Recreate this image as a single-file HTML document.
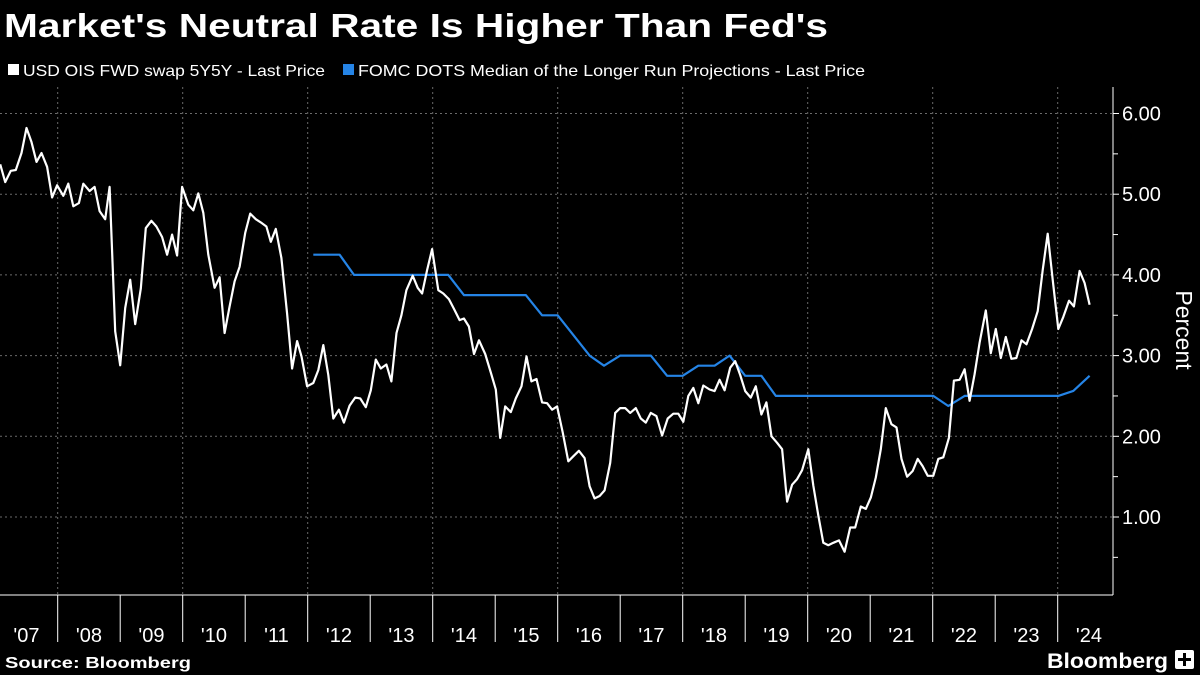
<!DOCTYPE html>
<html><head><meta charset="utf-8"><style>
html,body{margin:0;padding:0;background:#000;width:1200px;height:675px;overflow:hidden}
svg{display:block;font-family:"Liberation Sans",sans-serif}
</style></head><body>
<svg id="chart" width="1200" height="675" viewBox="0 0 1200 675">
<rect width="1200" height="675" fill="#000"/>
<text x="4" y="37" fill="#fff" font-weight="bold" font-size="33" textLength="824" lengthAdjust="spacingAndGlyphs">Market's Neutral Rate Is Higher Than Fed's</text>
<g>
<g>
<rect x="8" y="64" width="11" height="11" fill="#fff"/>
<text x="23" y="76" fill="#fff" font-size="16" textLength="302" lengthAdjust="spacingAndGlyphs">USD OIS FWD swap 5Y5Y - Last Price</text>
</g>
<g>
<rect x="343" y="64" width="11" height="11" fill="#2584e6"/>
<text x="358" y="76" fill="#fff" font-size="16" textLength="507" lengthAdjust="spacingAndGlyphs">FOMC DOTS Median of the Longer Run Projections - Last Price</text>
</g>
</g>
<g id="grid"></g>
<g id="axes"></g>
<g id="series"></g>
<text transform="translate(1176,330) rotate(90)" fill="#fff" font-size="23" text-anchor="middle">Percent</text>
<text x="5" y="668" fill="#fff" font-weight="bold" font-size="16" textLength="186" lengthAdjust="spacingAndGlyphs">Source: Bloomberg</text>
<text x="1047" y="668" fill="#fff" font-weight="bold" font-size="21" textLength="121" lengthAdjust="spacingAndGlyphs">Bloomberg</text>
<g><rect x="1175" y="650" width="19" height="19" rx="2" fill="#fff"/><rect x="1183" y="653" width="3" height="13" fill="#000"/><rect x="1178" y="658" width="13" height="3" fill="#000"/></g>
</svg>
<script>
const yTicks = [1, 2, 3, 4, 5, 6];
const yTickLabels = ["1.00", "2.00", "3.00", "4.00", "5.00", "6.00"];
const years = [2007,2008,2009,2010,2011,2012,2013,2014,2015,2016,2017,2018,2019,2020,2021,2022,2023,2024];
const yearLabels = ["'07","'08","'09","'10","'11","'12","'13","'14","'15","'16","'17","'18","'19","'20","'21","'22","'23","'24"];
const oisDates = [2007.08,2007.16,2007.25,2007.33,2007.42,2007.50,2007.58,2007.66,2007.74,2007.83,2007.91,2007.99,2008.09,2008.17,2008.25,2008.34,2008.41,2008.51,2008.59,2008.67,2008.76,2008.83,2008.92,2009.00,2009.08,2009.16,2009.24,2009.33,2009.41,2009.50,2009.58,2009.67,2009.75,2009.83,2009.91,2009.99,2010.09,2010.17,2010.25,2010.33,2010.41,2010.51,2010.59,2010.67,2010.75,2010.83,2010.91,2011.00,2011.08,2011.17,2011.25,2011.34,2011.41,2011.49,2011.58,2011.67,2011.75,2011.83,2011.90,2011.99,2012.09,2012.17,2012.25,2012.33,2012.41,2012.50,2012.58,2012.67,2012.76,2012.84,2012.93,2013.01,2013.09,2013.17,2013.26,2013.34,2013.42,2013.50,2013.58,2013.68,2013.76,2013.83,2013.91,2013.99,2014.09,2014.17,2014.26,2014.34,2014.43,2014.50,2014.58,2014.66,2014.74,2014.84,2014.93,2015.01,2015.08,2015.16,2015.25,2015.33,2015.42,2015.50,2015.58,2015.66,2015.75,2015.83,2015.91,2015.99,2016.08,2016.17,2016.26,2016.34,2016.43,2016.51,2016.59,2016.67,2016.75,2016.84,2016.92,2017.00,2017.08,2017.16,2017.25,2017.33,2017.41,2017.49,2017.58,2017.67,2017.76,2017.85,2017.93,2018.01,2018.09,2018.17,2018.25,2018.33,2018.43,2018.51,2018.59,2018.67,2018.76,2018.84,2018.92,2019.00,2019.09,2019.17,2019.26,2019.34,2019.42,2019.51,2019.59,2019.67,2019.75,2019.83,2019.91,2020.01,2020.09,2020.17,2020.25,2020.33,2020.41,2020.50,2020.59,2020.68,2020.76,2020.85,2020.93,2021.01,2021.09,2021.17,2021.25,2021.34,2021.42,2021.50,2021.59,2021.68,2021.76,2021.84,2021.92,2022.01,2022.09,2022.17,2022.26,2022.34,2022.43,2022.51,2022.59,2022.67,2022.75,2022.85,2022.93,2023.01,2023.09,2023.17,2023.26,2023.34,2023.42,2023.50,2023.59,2023.68,2023.76,2023.84,2023.92,2024.01,2024.09,2024.18,2024.26,2024.35,2024.43,2024.51];
const oisValues = [5.37,5.15,5.29,5.30,5.51,5.82,5.65,5.40,5.51,5.34,4.96,5.11,4.98,5.13,4.85,4.89,5.13,5.04,5.09,4.79,4.69,5.09,3.30,2.88,3.59,3.94,3.39,3.83,4.58,4.67,4.60,4.47,4.25,4.50,4.24,5.09,4.87,4.80,5.01,4.77,4.25,3.84,3.97,3.28,3.61,3.92,4.10,4.52,4.76,4.69,4.65,4.60,4.41,4.57,4.21,3.52,2.84,3.18,2.99,2.62,2.66,2.82,3.13,2.76,2.22,2.33,2.17,2.38,2.48,2.47,2.36,2.57,2.95,2.84,2.89,2.68,3.28,3.50,3.81,3.99,3.84,3.77,4.06,4.32,3.81,3.77,3.70,3.58,3.44,3.46,3.36,3.02,3.19,3.02,2.79,2.58,1.98,2.37,2.30,2.47,2.62,2.99,2.68,2.71,2.42,2.41,2.33,2.37,2.05,1.69,1.76,1.82,1.73,1.38,1.23,1.26,1.33,1.67,2.29,2.35,2.35,2.29,2.35,2.22,2.17,2.29,2.25,2.01,2.22,2.28,2.28,2.18,2.50,2.60,2.41,2.63,2.58,2.56,2.70,2.57,2.85,2.93,2.76,2.56,2.48,2.62,2.27,2.42,2.00,1.92,1.84,1.19,1.40,1.47,1.58,1.84,1.39,1.02,0.68,0.65,0.68,0.71,0.57,0.87,0.87,1.13,1.10,1.24,1.49,1.84,2.35,2.15,2.11,1.72,1.50,1.57,1.72,1.63,1.51,1.51,1.72,1.74,1.98,2.69,2.70,2.83,2.44,2.77,3.16,3.56,3.03,3.33,2.97,3.23,2.96,2.97,3.19,3.14,3.33,3.55,4.06,4.51,3.94,3.33,3.48,3.68,3.61,4.05,3.90,3.63];
const fomcDates = [2012.09,2012.51,2012.74,2014.25,2014.50,2015.49,2015.75,2016.00,2016.51,2016.74,2017.00,2017.49,2017.75,2018.00,2018.25,2018.51,2018.75,2019.00,2019.26,2019.49,2022.01,2022.25,2022.51,2024.01,2024.25,2024.51];
const fomcValues = [4.25,4.25,4.0,4.0,3.75,3.75,3.5,3.5,3.0,2.875,3.0,3.0,2.75,2.75,2.875,2.875,3.0,2.75,2.75,2.5,2.5,2.375,2.5,2.5,2.5625,2.75];

const NS = "http://www.w3.org/2000/svg";
const X0 = 0, X1 = 1113, YTOP = 87, YBOT = 595;
function xScale(t){ return 57.7 + (t - 2008) * 62.5; }
function yScale(v){ return 113.5 + (6 - v) * 80.7; }
function mk(tag, attrs, parent){ const e = document.createElementNS(NS, tag); for (const k in attrs) e.setAttribute(k, attrs[k]); parent.appendChild(e); return e; }
const grid = document.getElementById('grid'), axes = document.getElementById('axes'), series = document.getElementById('series');

yTicks.forEach((v, i) => {
  const y = yScale(v);
  const gl = mk('line', {x1: X0, x2: X1, y1: y, y2: y, stroke: '#6a6a6a', 'stroke-width': 1, 'stroke-dasharray': '2,3'}, grid);
  
  
  const tk = mk('line', {x1: X1, x2: X1 + 6, y1: y, y2: y, stroke: '#fff', 'stroke-width': 1}, axes);
  
  
  const hy = yScale(v - 0.5);
  const mt = mk('line', {x1: X1, x2: X1 + 5, y1: hy, y2: hy, stroke: '#fff', 'stroke-width': 1}, axes);
  
  
  const lb = mk('text', {x: X1 + 9, y: y + 7, fill: '#fff', 'font-size': 20}, axes);
  lb.textContent = yTickLabels[i];
  
  
});

years.forEach((yr, i) => {
  const xb = xScale(yr);
  if (yr > 2007) {
    const sep = mk('line', {x1: xb, x2: xb, y1: YBOT, y2: 642, stroke: '#fff', 'stroke-width': 1}, axes);
    
    
    if (yr % 2 === 0) {
      const vg = mk('line', {x1: xb, x2: xb, y1: YTOP, y2: YBOT, stroke: '#6a6a6a', 'stroke-width': 1, 'stroke-dasharray': '2,3'}, grid);
      
      
    }
  }
  const cx = Math.max(xScale(yr + 0.5), 22);
  const lb = mk('text', {x: cx, y: 642, fill: '#fff', 'font-size': 20, 'text-anchor': 'middle'}, axes);
  lb.textContent = yearLabels[i];
  
  
});

const ya = mk('line', {x1: X1, x2: X1, y1: YTOP, y2: YBOT, stroke: '#fff', 'stroke-width': 1}, axes);


const xa = mk('line', {x1: X0, x2: X1, y1: YBOT, y2: YBOT, stroke: '#fff', 'stroke-width': 1}, axes);



function pathOf(ds, vs){ return ds.map((d, i) => (i ? 'L' : 'M') + xScale(d).toFixed(1) + ',' + yScale(vs[i]).toFixed(1)).join(''); }
const fomc = mk('path', {d: pathOf(fomcDates, fomcValues), fill: 'none', stroke: '#2584e6', 'stroke-width': 2.2, 'stroke-linejoin': 'round'}, series);


const ois = mk('path', {d: pathOf(oisDates, oisValues), fill: 'none', stroke: '#fff', 'stroke-width': 2.2, 'stroke-linejoin': 'round'}, series);


</script>
</body></html>
